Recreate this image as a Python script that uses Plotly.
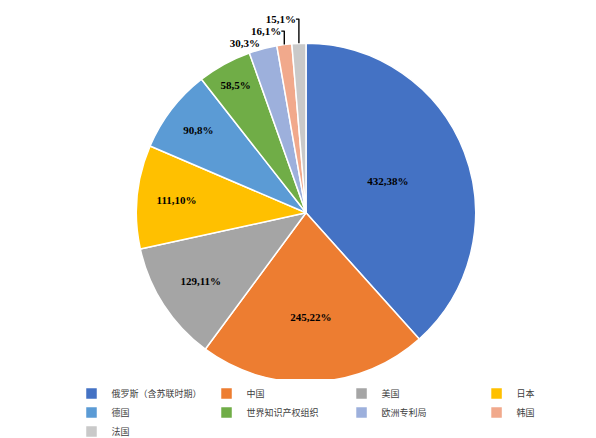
import plotly.graph_objects as go

countries = ['俄罗斯（含苏联时期）', '中国', '美国', '日本', '德国',
             '世界知识产权组织', '欧洲专利局', '韩国', '法国']
counts = [432, 245, 129, 111, 90, 58, 30, 16, 15]
shares = [38, 22, 11, 10, 8, 5, 3, 1, 1]
colors = ['#4472C4', '#ED7D31', '#A5A5A5', '#FFC000', '#5B9BD5',
          '#70AD47', '#9DB0DC', '#F1A98C', '#C9C9C9']

labels_txt = ['<b>%d,%d%%</b>' % (c, s) for c, s in zip(counts, shares)]
positions = ['inside'] * 6 + ['outside'] * 3

fig = go.Figure(go.Pie(
    labels=countries, values=counts, text=labels_txt,
    textinfo='text', textposition=positions,
    sort=False, direction='clockwise', rotation=0,
    marker=dict(colors=colors, line=dict(color='white', width=1.5)),
    textfont=dict(family='Liberation Serif', size=11, color='black'),
    insidetextorientation='horizontal',
    domain=dict(x=[0.2, 0.8], y=[0.15, 0.95]),
))
fig.update_layout(
    width=596, height=438,
    margin=dict(l=0, r=0, t=0, b=0),
    paper_bgcolor='white',
    legend=dict(orientation='h', x=0.5, xanchor='center', y=0.0, yanchor='bottom',
                font=dict(family='Noto Sans CJK SC', size=9, color='#404040'),
                itemwidth=30, tracegroupgap=0),
)
fig.write_html("out.html")
